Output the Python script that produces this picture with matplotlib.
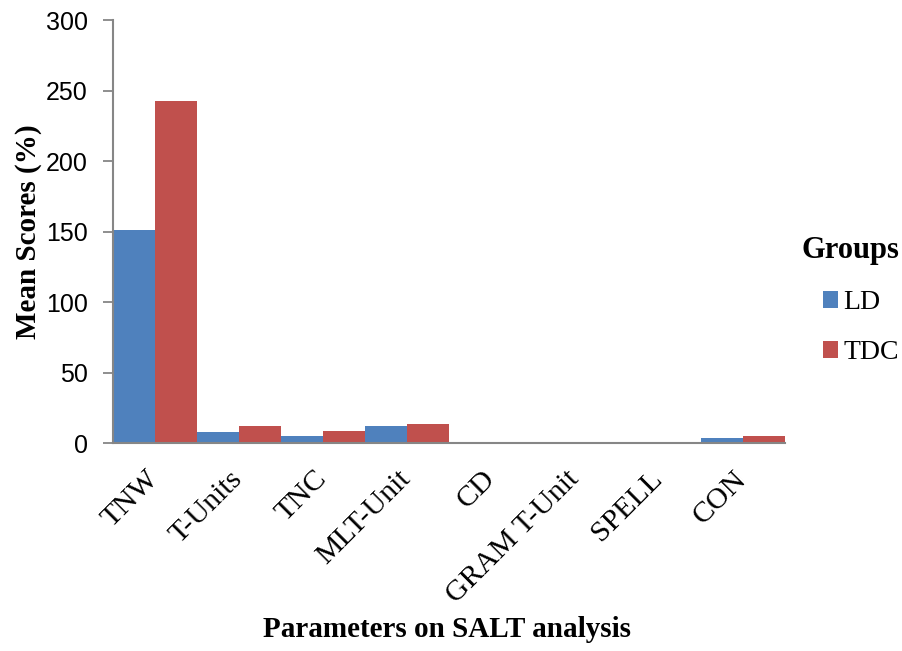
import numpy as np
import matplotlib
matplotlib.use('Agg')
import matplotlib.pyplot as plt

# values
categories = ['TNW', 'T-Units', 'TNC', 'MLT-Unit', 'CD', 'GRAM T-Unit', 'SPELL', 'CON']
ld_scores = [151, 7.8, 4.7, 11.8, 0.3, 0.2, 0.2, 3.8]
tdc_scores = [243, 12.0, 8.5, 13.7, 0.3, 0.2, 0.2, 5.2]
group_names = ['LD', 'TDC']
y_ticks = [0, 50, 100, 150, 200, 250, 300]

blue = '#4F81BD'
red = '#C0504D'
axis_grey = '#868686'
serif = ['Liberation Serif', 'DejaVu Serif']
sans = ['Liberation Sans', 'DejaVu Sans']

fig = plt.figure(figsize=(9.03, 6.51), dpi=100)
ax = fig.add_axes([0.125, 0.3195, 0.744, 0.6495])

x = np.arange(len(categories))
w = 0.5
b1 = ax.bar(x - w / 2, ld_scores, width=w, color=blue, label=group_names[0])
b2 = ax.bar(x + w / 2, tdc_scores, width=w, color=red, label=group_names[1])

ax.set_xlim(-0.5, len(categories) - 0.5)
ax.set_ylim(0, 300)
ax.set_yticks(y_ticks)
ax.set_yticklabels([str(v) for v in y_ticks], fontsize=18, family=sans)

ax.set_xticks(x)
ax.set_xticklabels(categories, rotation=45, ha='right', va='center',
                   rotation_mode='anchor', fontsize=21.5, family=serif)
ax.tick_params(axis='x', length=0, pad=23)
ax.tick_params(axis='y', length=7, width=1.3, color=axis_grey, direction='out', pad=11)

for s in ['top', 'right']:
    ax.spines[s].set_visible(False)
for s in ['left', 'bottom']:
    ax.spines[s].set_color(axis_grey)
    ax.spines[s].set_linewidth(1.5)

ax.set_ylabel('Mean Scores (%)', fontsize=21, fontweight='bold', family=serif, labelpad=3)
fig.text(0.495, 0.022, 'Parameters on SALT analysis', fontsize=21, fontweight='bold',
         family=serif, ha='center', va='baseline')

leg = fig.legend(handles=[b1, b2], loc='upper right', bbox_to_anchor=(1.005, 0.65),
                 frameon=False, title='Groups', handlelength=0.55, handleheight=0.55,
                 handletextpad=0.2, labelspacing=0.9, borderaxespad=0, borderpad=0.3,
                 prop={'family': serif, 'size': 20},
                 title_fontproperties={'family': serif, 'size': 22, 'weight': 'bold'})
leg._legend_box.align = 'right'

fig.savefig('out.png', dpi=100)
